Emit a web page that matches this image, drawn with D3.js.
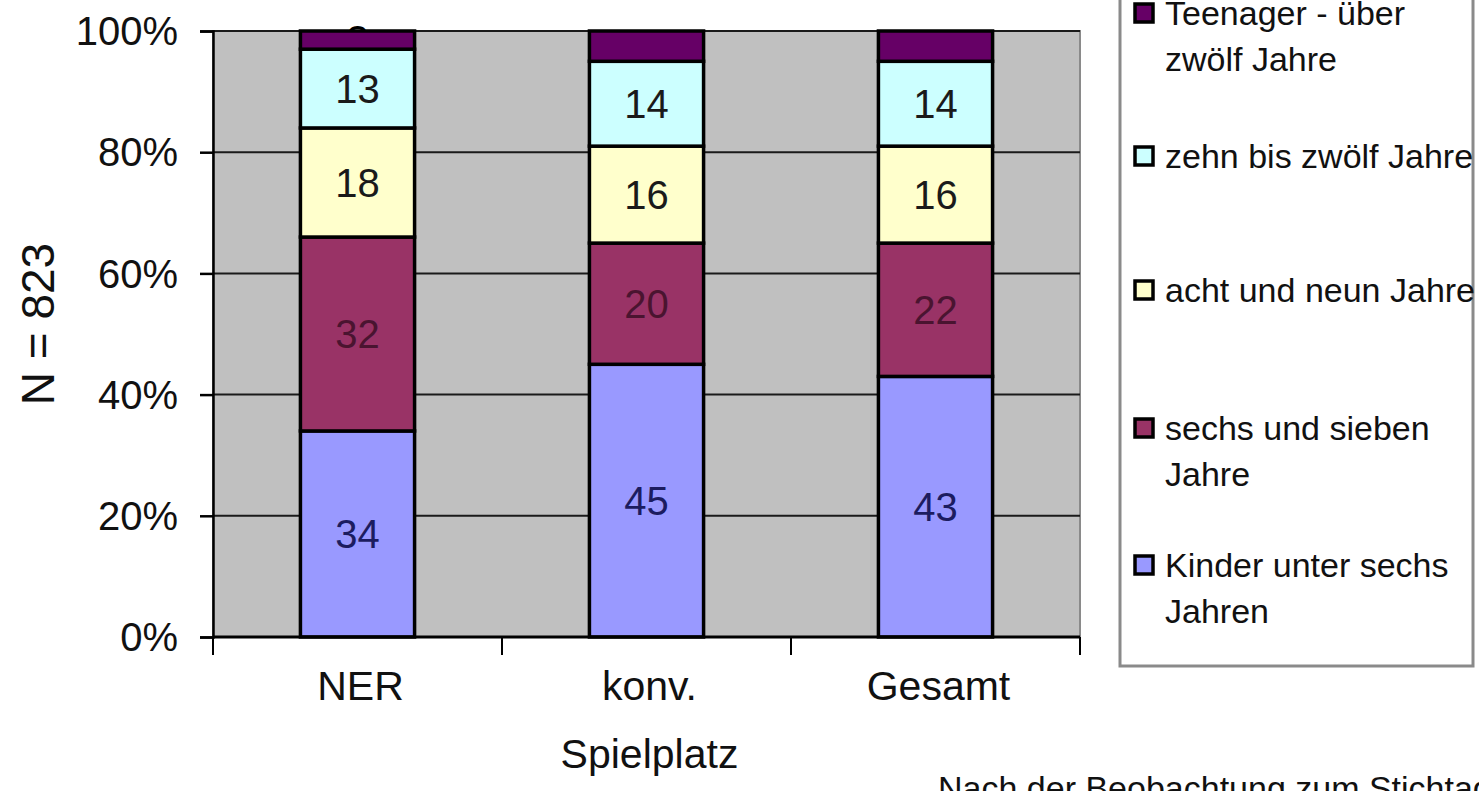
<!DOCTYPE html>
<html>
<head>
<meta charset="utf-8">
<script src="https://cdn.jsdelivr.net/npm/d3@7"></script>
<style>
  html, body { margin: 0; padding: 0; background: #ffffff; }
  svg { display: block; font-family: "Liberation Sans", Arial, sans-serif; }
</style>
</head>
<body>
<svg id="chart" width="1479" height="791"></svg>
<script>
// Categories (x axis), split into display lines
const categories = ["NER", "konv. Spielplatz", "Gesamt"];
const categoryLines = [["NER"], ["konv.", "Spielplatz"], ["Gesamt"]];

// Age groups, bottom to top of each stacked bar
const seriesNames = [
  "Kinder unter sechs Jahren",
  "sechs und sieben Jahre",
  "acht und neun Jahre",
  "zehn bis zwölf Jahre",
  "Teenager - über zwölf Jahre"
];
const kinderUnterSechs = [34, 45, 43];
const sechsUndSieben   = [32, 20, 22];
const achtUndNeun      = [18, 16, 16];
const zehnBisZwoelf    = [13, 14, 14];
const teenager         = [3, 5, 5];

// Legend wording, as it wraps in the legend box (top entry first)
const legendLines = [
  ["Teenager - über", "zwölf Jahre"],
  ["zehn bis zwölf Jahre"],
  ["acht und neun Jahre"],
  ["sechs und sieben", "Jahre"],
  ["Kinder unter sechs", "Jahren"]
];

const yTicks = [0, 20, 40, 60, 80, 100];
const yTitle = "N = 823";
const footNote = "Nach der Beobachtung zum Stichtag";

const seriesColors = ["#9999ff", "#993366", "#ffffcc", "#ccffff", "#660066"];
const labelColors  = ["#1c1c60", "#4a1430", "#1a1a1a", "#1a1a1a", "#000000"];

// Build the table d3.stack expects
const seriesValues = [kinderUnterSechs, sechsUndSieben, achtUndNeun, zehnBisZwoelf, teenager];
const table = categories.map((c, i) => {
  const row = { category: c };
  seriesNames.forEach((s, k) => { row[s] = seriesValues[k][i]; });
  return row;
});
const stacked = d3.stack().keys(seriesNames)(table);

const svg = d3.select("#chart");
const plot = { left: 213, right: 1080, top: 31, bottom: 637 };

const x = d3.scaleBand()
  .domain(categories)
  .range([plot.left, plot.right])
  .paddingInner(0.605)
  .paddingOuter(0.3025);
const y = d3.scaleLinear().domain([0, 100]).range([plot.bottom, plot.top]);

// Plot area background
svg.append("rect")
  .attr("x", plot.left).attr("y", plot.top)
  .attr("width", plot.right - plot.left).attr("height", plot.bottom - plot.top)
  .attr("fill", "#c0c0c0")
  .attr("stroke", "#8a8a8a").attr("stroke-width", 2);

// Horizontal gridlines
svg.append("g").selectAll("line")
  .data(yTicks.filter(d => d > 0))
  .join("line")
  .attr("x1", plot.left).attr("x2", plot.right)
  .attr("y1", d => y(d)).attr("y2", d => y(d))
  .attr("stroke", "#1a1a1a").attr("stroke-width", 2);

// Value labels in the middle of each segment
function drawLabels(parent, series, k) {
  parent.selectAll(null)
    .data(series)
    .join("text")
    .attr("x", d => x(d.data.category) + x.bandwidth() / 2)
    .attr("y", d => y((d[0] + d[1]) / 2))
    .attr("dy", "0.36em")
    .attr("fill", labelColors[k])
    .text(d => d.data[series.key]);
}

// Labels of the thin top segment sit underneath the bars
const backLabels = svg.append("g")
  .attr("font-size", 40)
  .attr("text-anchor", "middle");
drawLabels(backLabels, stacked[4], 4);

// Stacked bars
const layer = svg.append("g").selectAll("g")
  .data(stacked)
  .join("g")
  .attr("fill", (d, i) => seriesColors[i]);

layer.selectAll("rect")
  .data(d => d.map(p => ({ p, key: d.key })))
  .join("rect")
  .attr("x", d => x(d.p.data.category))
  .attr("width", x.bandwidth())
  .attr("y", d => y(d.p[1]))
  .attr("height", d => y(d.p[0]) - y(d.p[1]))
  .attr("stroke", "#000000")
  .attr("stroke-width", 3.5);

const labels = svg.append("g")
  .attr("font-size", 40)
  .attr("text-anchor", "middle");
stacked.slice(0, 4).forEach((s, k) => drawLabels(labels, s, k));

// Y axis
const yAxis = d3.axisLeft(y)
  .tickValues(yTicks)
  .tickFormat(d => d + "%")
  .tickSize(13)
  .tickPadding(22);
const gy = svg.append("g")
  .attr("transform", `translate(${plot.left},0)`)
  .call(yAxis);
gy.select(".domain").attr("stroke", "#000").attr("stroke-width", 2.5);
gy.selectAll(".tick line").attr("stroke", "#000").attr("stroke-width", 2.5);
gy.selectAll(".tick text")
  .attr("font-size", 40)
  .attr("font-family", "Liberation Sans, Arial, sans-serif")
  .attr("fill", "#111")
  .attr("dy", "0.34em");

// X axis line and category separator ticks
const gx = svg.append("g");
gx.append("line")
  .attr("x1", plot.left).attr("x2", plot.right)
  .attr("y1", plot.bottom).attr("y2", plot.bottom)
  .attr("stroke", "#000").attr("stroke-width", 3);
const step = x.step();
const boundaries = d3.range(categories.length + 1).map(i => plot.left + i * step);
gx.selectAll("line.sep")
  .data(boundaries)
  .join("line")
  .attr("class", "sep")
  .attr("x1", d => d).attr("x2", d => d)
  .attr("y1", plot.bottom).attr("y2", plot.bottom + 18)
  .attr("stroke", "#000").attr("stroke-width", 2);

// Category labels
const catText = gx.selectAll("text.cat")
  .data(categories)
  .join("text")
  .attr("class", "cat")
  .attr("x", d => x(d) + x.bandwidth() / 2 + 3)
  .attr("y", 700)
  .attr("text-anchor", "middle")
  .attr("font-size", 41)
  .attr("fill", "#111");
catText.selectAll("tspan")
  .data((d, i) => categoryLines[i])
  .join("tspan")
  .attr("x", function () { return d3.select(this.parentNode).attr("x"); })
  .attr("dy", (d, i) => i === 0 ? 0 : 68)
  .text(d => d);

// Y axis title
svg.append("text")
  .attr("transform", "translate(54,324) rotate(-90)")
  .attr("text-anchor", "middle")
  .attr("font-size", 46)
  .attr("fill", "#111")
  .text(yTitle);

// Legend
const legend = svg.append("g");
legend.append("rect")
  .attr("x", 1120).attr("y", -10)
  .attr("width", 353).attr("height", 676)
  .attr("fill", "#ffffff")
  .attr("stroke", "#8a8a8a").attr("stroke-width", 3);

const legendBaselines = [25, 168, 302, 440, 577];
const legendOrder = d3.range(seriesNames.length).reverse();
legendOrder.forEach((k, row) => {
  const base = legendBaselines[row];
  legend.append("rect")
    .attr("x", 1135).attr("y", base - 21)
    .attr("width", 18).attr("height", 18)
    .attr("fill", seriesColors[k])
    .attr("stroke", "#000").attr("stroke-width", 3.5);
  const t = legend.append("text")
    .attr("x", 1165).attr("y", base)
    .attr("font-size", 34)
    .attr("fill", "#111");
  t.selectAll("tspan")
    .data(legendLines[row])
    .join("tspan")
    .attr("x", 1165)
    .attr("dy", (d, i) => i === 0 ? 0 : 46)
    .text(d => d);
});

// Footnote, running off the bottom edge
svg.append("text")
  .attr("x", 938).attr("y", 800)
  .attr("font-size", 34)
  .attr("fill", "#111")
  .text(footNote);
</script>
</body>
</html>
